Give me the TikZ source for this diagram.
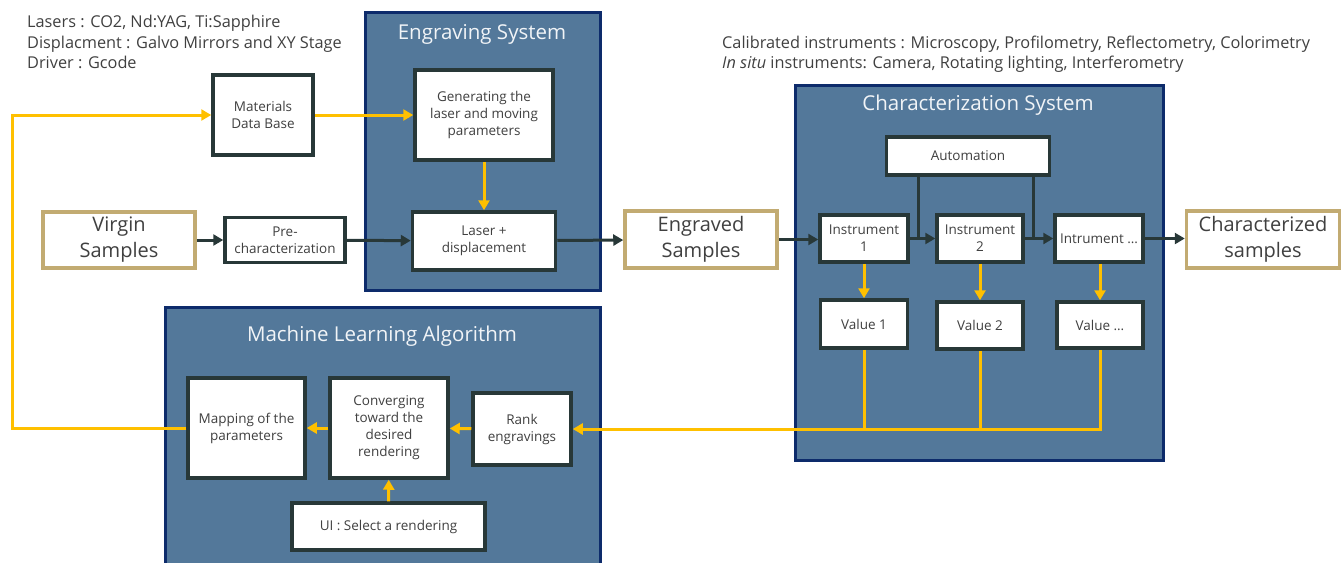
\documentclass[tikz,border=0pt]{standalone}
\usepackage{fontspec}
\setmainfont{Open Sans}
\usepackage{tikz}
\usetikzlibrary{arrows.meta}

\definecolor{steel}{HTML}{53789A}
\definecolor{navy}{HTML}{0D2B6B}
\definecolor{boxline}{HTML}{283838}
\definecolor{gold}{HTML}{C2AB72}
\definecolor{amber}{HTML}{FFC000}
\definecolor{ink}{HTML}{404040}

\newcommand\boxfont{\fontsize{13.5}{17}\selectfont}
\newcommand\grpfont{\fontsize{20.5}{24}\selectfont}
\newcommand\smpfont{\fontsize{20}{26}\selectfont}
\newcommand\notefont{\fontsize{16.3}{20.5}\selectfont}

\begin{document}
\begin{tikzpicture}[x=1pt, y=-1pt,
  every node/.style={text=ink, align=center},
  group/.style={fill=steel, draw=navy, line width=3pt},
  grouptitle/.style={text=white!92!steel, font=\grpfont},
  stage/.style={draw=boxline, fill=white, line width=3.5pt, font=\boxfont, inner sep=2pt},
  sample/.style={draw=gold, fill=white, line width=3.5pt, font=\smpfont, inner sep=2pt},
  darrow/.style={draw=boxline, line width=3pt, -{Triangle[length=10pt,width=11pt]}},
  dline/.style={draw=boxline, line width=3pt},
  yarrow/.style={draw=amber, line width=3pt, -{Triangle[length=10pt,width=11pt]}},
  yline/.style={draw=amber, line width=3pt}]
\clip (0,0) rectangle (1343,562);

% Group areas
\path[group] (365,12) rectangle (600,290);
\node[grouptitle] (engtitle) at (482,34) {Engraving System};
\path[group] (795,85) rectangle (1163,460);
\node[grouptitle] (chartitle) at (978,105) {Characterization System};
\path[group] (165,307) rectangle (600,570);
\node[grouptitle] (mltitle) at (382,336) {Machine Learning Algorithm};

% Notes
\node[anchor=north west, align=left, inner sep=0pt, font=\notefont] (lasernote) at (27,15)
  {Lasers : CO2, Nd:YAG, Ti:Sapphire\\Displacment : Galvo Mirrors and XY Stage\\Driver : Gcode};
\node[anchor=north west, align=left, inner sep=0pt, font=\notefont] (instnote) at (722,36)
  {Calibrated instruments : Microscopy, Profilometry, Reflectometry, Colorimetry\\[-1pt]\textit{In situ} instruments: Camera, Rotating lighting, Interferometry};

% Samples
\node[sample, minimum width=152pt, minimum height=56pt] (virgin) at (119,240) {Virgin\\Samples};
\node[sample, minimum width=152pt, minimum height=57pt] (engraved) at (701,239.5) {Engraved\\Samples};
\node[sample, minimum width=153pt, minimum height=57pt] (charac) at (1263,239.5) {Characterized\\samples};

% Engraving stages
\node[stage, minimum width=100pt, minimum height=80pt] (matdb) at (263,115) {Materials\\Data Base};
\node[stage, minimum width=138pt, minimum height=90pt] (gen) at (484,115) {Generating the\\laser and moving\\parameters};
\node[stage, minimum width=120pt, minimum height=45pt] (prechar) at (285,240) {Pre-\\characterization};
\node[stage, minimum width=143pt, minimum height=58pt] (laser) at (484,241) {Laser +\\displacement};

% Characterization stages
\node[stage, minimum width=163pt, minimum height=38pt] (auto) at (968,156) {Automation};
\node[stage, minimum width=88pt, minimum height=47pt] (inst1) at (864,238.5) {Instrument\\1};
\node[stage, minimum width=86pt, minimum height=47pt] (inst2) at (980,238.5) {Instrument\\2};
\node[stage, minimum width=88pt, minimum height=47pt] (inst3) at (1099,238.5) {Intrument \dots};
\node[stage, minimum width=87pt, minimum height=48pt] (val1) at (864,324) {Value 1};
\node[stage, minimum width=86pt, minimum height=47pt] (val2) at (980,325.5) {Value 2};
\node[stage, minimum width=86pt, minimum height=46pt] (val3) at (1100,325) {Value \dots};

% Learning stages
\node[stage, minimum width=98pt, minimum height=72pt] (rank) at (522,429) {Rank\\engravings};
\node[stage, minimum width=118pt, minimum height=100pt] (conv) at (389,428) {Converging\\toward the\\desired\\rendering};
\node[stage, minimum width=117pt, minimum height=100pt] (mapping) at (246.5,428) {Mapping of the\\parameters};
\node[stage, minimum width=193pt, minimum height=47pt] (ui) at (388.5,526.5) {UI : Select a rendering};

% Sample flow
\draw[darrow] (virgin) -- (prechar);
\draw[darrow] (prechar) -- (laser);
\draw[darrow] (laser) -- (engraved);
\draw[darrow] (engraved.east) -- (inst1.west |- engraved.east);
\draw[darrow] (inst1) -- (inst2);
\draw[darrow] (inst2) -- (inst3);
\draw[darrow] (inst3.east) -- (charac.west |- inst3.east);

% Automation links
\coordinate (auto1) at (918,0);
\coordinate (auto2) at (1033,0);
\draw[dline] (auto1 |- auto.south) -- (auto1 |- inst1.east);
\draw[dline] (auto2 |- auto.south) -- (auto2 |- inst2.east);

% Data flow
\draw[yarrow] (matdb) -- (gen);
\draw[yarrow] (gen) -- (laser);
\draw[yarrow] (inst1.south -| val1) -- (val1);
\draw[yarrow] (inst2) -- (val2);
\draw[yarrow] (inst3.south -| val3) -- (val3);
\draw[yline] (val1) -- (val1 |- rank.east);
\draw[yline] (val2) -- (val2 |- rank.east);
\draw[yarrow] (val3) |- (rank.east);
\draw[yarrow] (rank) -- (conv);
\draw[yarrow] (ui) -- (conv);
\draw[yarrow] (conv) -- (mapping);
\coordinate (loop) at (12,428);
\draw[yarrow] (mapping.west) -- (loop) |- (matdb.west);

\end{tikzpicture}
\end{document}
